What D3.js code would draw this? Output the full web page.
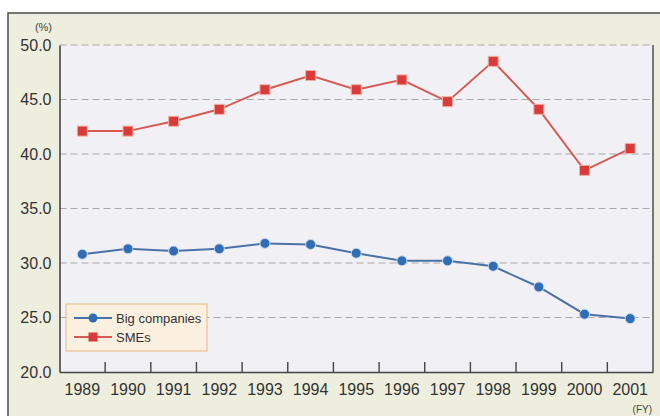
<!DOCTYPE html>
<html>
<head>
<meta charset="utf-8">
<script src="https://cdn.jsdelivr.net/npm/d3@7"></script>
<style>
  html, body { margin: 0; padding: 0; background: #ffffff; }
  svg { display: block; font-family: "Liberation Sans", Arial, sans-serif; }
</style>
</head>
<body>
<svg id="chart" width="660" height="416"></svg>
<script>
const years = ["1989","1990","1991","1992","1993","1994","1995","1996","1997","1998","1999","2000","2001"];
const bigCompanies = [30.8, 31.3, 31.1, 31.3, 31.8, 31.7, 30.9, 30.2, 30.2, 29.7, 27.8, 25.3, 24.9];
const smes = [42.1, 42.1, 43.0, 44.1, 45.9, 47.2, 45.9, 46.8, 44.8, 48.5, 44.1, 38.5, 40.5];
const yTicks = [20, 25, 30, 35, 40, 45, 50];
const seriesNames = ["Big companies", "SMEs"];

(function () {
const svg = d3.select("#chart");
const pLeft = 59.5, pRight = 653, pTop = 45, pBottom = 372;

// outer frame
svg.append("rect").attr("x", 8).attr("y", 13).attr("width", 700).attr("height", 450)
  .attr("fill", "#eeeede").attr("stroke", "#555").attr("stroke-width", 1.6);

// plot background
svg.append("rect").attr("x", pLeft).attr("y", pTop).attr("width", pRight - pLeft).attr("height", pBottom - pTop)
  .attr("fill", "#f1f1f5");

const x = d3.scaleBand().domain(years).range([pLeft, pRight]).padding(0);
const y = d3.scaleLinear().domain([20, 50]).range([pBottom, pTop]);

// gridlines
svg.append("g").selectAll("line").data(yTicks.filter(d => d > 20)).join("line")
  .attr("x1", pLeft).attr("x2", pRight)
  .attr("y1", d => y(d)).attr("y2", d => y(d))
  .attr("stroke", "#a9a9a9").attr("stroke-width", 1.2).attr("stroke-dasharray", "7,4");

// right border
svg.append("line").attr("x1", pRight).attr("x2", pRight).attr("y1", pTop).attr("y2", pBottom)
  .attr("stroke", "#444").attr("stroke-width", 1.4);

// y axis labels
const yAxis = d3.axisLeft(y).tickValues(yTicks).tickFormat(d3.format(".1f")).tickSize(0).tickPadding(8);
const gy = svg.append("g").attr("transform", `translate(${pLeft},0)`).call(yAxis);
gy.select(".domain").attr("stroke", "#444").attr("stroke-width", 1.6);
gy.selectAll("text").attr("font-size", 16).attr("fill", "#333").attr("font-family", "Liberation Sans, Arial, sans-serif");

// x axis
const xAxis = d3.axisBottom(x).tickSize(0).tickPadding(12);
const gx = svg.append("g").attr("transform", `translate(0,${pBottom})`).call(xAxis);
gx.select(".domain").attr("stroke", "#444").attr("stroke-width", 1.6);
gx.selectAll("text").attr("font-size", 16).attr("fill", "#333").attr("font-family", "Liberation Sans, Arial, sans-serif");

// inward ticks at band boundaries
svg.append("g").selectAll("line").data(years.slice(1)).join("line")
  .attr("x1", d => x(d)).attr("x2", d => x(d))
  .attr("y1", pBottom).attr("y2", pBottom - 10)
  .attr("stroke", "#444").attr("stroke-width", 1.4);

// unit labels
svg.append("text").attr("x", 52).attr("y", 31).attr("text-anchor", "end")
  .attr("font-size", 11).attr("fill", "#444").text("(%)");
svg.append("text").attr("x", 652).attr("y", 413).attr("text-anchor", "end")
  .attr("font-size", 10).attr("fill", "#444").text("(FY)");

const cx = d => x(d) + x.bandwidth() / 2;

// series
const blueLine = "#4a72a6", blueMark = "#2f6db5";
const redLine = "#d65a52", redMark = "#d93a3a";

const line = d3.line().x(d => cx(d.year)).y(d => y(d.v));
const bigData = years.map((yr, i) => ({year: yr, v: bigCompanies[i]}));
const smeData = years.map((yr, i) => ({year: yr, v: smes[i]}));

svg.append("path").datum(bigData).attr("d", line).attr("fill", "none")
  .attr("stroke", blueLine).attr("stroke-width", 2);
svg.append("g").selectAll("circle").data(bigData).join("circle")
  .attr("cx", d => cx(d.year)).attr("cy", d => y(d.v)).attr("r", 5)
  .attr("fill", blueMark).attr("stroke", "#c9d8ee").attr("stroke-width", 1);

svg.append("path").datum(smeData).attr("d", line).attr("fill", "none")
  .attr("stroke", redLine).attr("stroke-width", 2);
svg.append("g").selectAll("rect").data(smeData).join("rect")
  .attr("x", d => cx(d.year) - 5).attr("y", d => y(d.v) - 5)
  .attr("width", 10).attr("height", 10)
  .attr("fill", redMark).attr("stroke", "#f3b0a0").attr("stroke-width", 1);

// legend
const lg = svg.append("g");
lg.append("rect").attr("x", 66).attr("y", 304).attr("width", 141).attr("height", 47)
  .attr("fill", "#fbf0df").attr("stroke", "#e6c491").attr("stroke-width", 1.2);
const legendItems = [
  {name: seriesNames[0], line: blueLine, mark: blueMark, shape: "circle", cy: 318},
  {name: seriesNames[1], line: redLine, mark: redMark, shape: "square", cy: 337}
];
legendItems.forEach(it => {
  lg.append("line").attr("x1", 74).attr("x2", 112).attr("y1", it.cy).attr("y2", it.cy)
    .attr("stroke", it.line).attr("stroke-width", 2);
  if (it.shape === "circle") {
    lg.append("circle").attr("cx", 93).attr("cy", it.cy).attr("r", 4.5).attr("fill", it.mark);
  } else {
    lg.append("rect").attr("x", 88.5).attr("y", it.cy - 4.5).attr("width", 9).attr("height", 9).attr("fill", it.mark);
  }
  lg.append("text").attr("x", 116).attr("y", it.cy).attr("dy", "0.35em")
    .attr("font-size", 13).attr("fill", "#333").text(it.name);
});
})();
</script>
</body>
</html>
